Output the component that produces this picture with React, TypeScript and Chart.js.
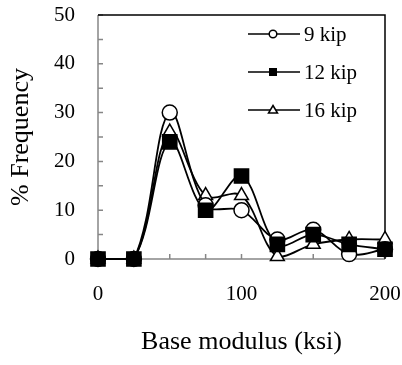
import React, { useEffect, useRef } from "react";
import { Chart, registerables } from "chart.js";

Chart.register(...registerables);

const modulus = [0, 25, 50, 75, 100, 125, 150, 175, 200];
const kip9 = [0, 0, 30, 11, 10, 4, 6, 1, 2];
const kip12 = [0, 0, 24, 10, 17, 3, 5, 3, 2];
const kip16 = [0, 0, 26, 13, 13, 0.5, 3, 4, 4];
const seriesNames = ["9 kip", "12 kip", "16 kip"];
const xTicks = [0, 100, 200];

const FONT = "'Liberation Serif', 'Times New Roman', serif";

const axesPlugin = {
  id: "axesPlugin",
  beforeDatasetsDraw(chart: any) {
    const { ctx, chartArea } = chart;
    const { left, right, top, bottom } = chartArea;
    const xs = chart.scales.x;
    const ys = chart.scales.y;
    ctx.save();
    ctx.lineWidth = 1.5;
    ctx.strokeStyle = "#868686";
    ctx.beginPath();
    ctx.moveTo(left, top);
    ctx.lineTo(left, bottom);
    ctx.lineTo(right, bottom);
    for (let v = 0; v <= 50; v += 5) {
      const y = ys.getPixelForValue(v);
      ctx.moveTo(left, y);
      ctx.lineTo(left + 5, y);
    }
    for (let v = 25; v < 200; v += 25) {
      const x = xs.getPixelForValue(v);
      ctx.moveTo(x, bottom);
      ctx.lineTo(x, bottom - 5);
    }
    ctx.stroke();
    ctx.strokeStyle = "#000";
    ctx.beginPath();
    ctx.moveTo(left, top);
    ctx.lineTo(right, top);
    ctx.lineTo(right, bottom);
    ctx.stroke();
    ctx.restore();
  },
  afterDraw(chart: any) {
    const { ctx } = chart;
    const rows = [34, 72, 110];
    const styles = ["circle", "rect", "triangle"];
    ctx.save();
    rows.forEach((y, i) => {
      ctx.strokeStyle = "#000";
      ctx.lineWidth = 1.5;
      ctx.beginPath();
      ctx.moveTo(248, y);
      ctx.lineTo(300, y);
      ctx.stroke();
      const cx = 273;
      ctx.beginPath();
      if (styles[i] === "circle") {
        ctx.arc(cx, y, 3.8, 0, Math.PI * 2);
        ctx.fillStyle = "#fff";
        ctx.fill();
        ctx.stroke();
      } else if (styles[i] === "rect") {
        ctx.fillStyle = "#000";
        ctx.fillRect(cx - 4, y - 4, 8, 8);
      } else {
        ctx.moveTo(cx, y - 4.5);
        ctx.lineTo(cx + 4.5, y + 3);
        ctx.lineTo(cx - 4.5, y + 3);
        ctx.closePath();
        ctx.fillStyle = "#fff";
        ctx.fill();
        ctx.stroke();
      }
      ctx.fillStyle = "#000";
      ctx.font = `21px ${FONT}`;
      ctx.textBaseline = "middle";
      ctx.textAlign = "left";
      ctx.fillText(seriesNames[i], 304, y + 1);
    });
    ctx.restore();
  },
};

export default function App() {
  const ref = useRef<HTMLCanvasElement>(null);
  useEffect(() => {
    if (!ref.current) return;
    const mk = (label: string, data: number[], style: string, radius: number, fill: string, order: number) => ({
      label,
      data: modulus.map((x, i) => ({ x, y: data[i] })),
      borderColor: "#000",
      borderWidth: 1.8,
      tension: 0.35,
      pointStyle: style,
      pointRadius: radius,
      pointBackgroundColor: fill,
      pointBorderColor: "#000",
      pointBorderWidth: 1.5,
      clip: false,
      order,
    });
    const chart = new Chart(ref.current, {
      type: "line",
      data: {
        datasets: [
          mk(seriesNames[0], kip9, "circle", 7.5, "#fff", 1),
          mk(seriesNames[1], kip12, "rect", 10, "#000", 0),
          mk(seriesNames[2], kip16, "triangle", 8, "#fff", 2),
        ] as any,
      },
      options: {
        animation: false,
        responsive: false,
        devicePixelRatio: 1,
        layout: { padding: { top: 15, right: 17, left: 0, bottom: 0 } },
        plugins: { legend: { display: false }, tooltip: { enabled: false } },
        scales: {
          x: {
            type: "linear",
            min: 0,
            max: 200,
            afterBuildTicks: (s: any) => {
              s.ticks = xTicks.map((v) => ({ value: v }));
            },
            afterFit: (s: any) => {
              s.height = 106;
              s.paddingLeft = 0;
              s.paddingRight = 0;
            },
            grid: { display: false, drawTicks: false },
            border: { display: false },
            ticks: {
              color: "#000",
              font: { family: FONT, size: 21 },
              padding: 23,
              maxRotation: 0,
            },
            title: {
              display: true,
              text: "Base modulus (ksi)",
              color: "#000",
              font: { family: FONT, size: 26 },
              padding: { top: 0, bottom: 7 },
            },
          },
          y: {
            min: 0,
            max: 50,
            afterFit: (s: any) => {
              s.width = 98;
              s.paddingTop = 0;
              s.paddingBottom = 0;
            },
            grid: { display: false, drawTicks: false },
            border: { display: false },
            ticks: {
              stepSize: 10,
              color: "#000",
              font: { family: FONT, size: 21 },
              padding: 23,
            },
            title: {
              display: true,
              text: "% Frequency",
              color: "#000",
              font: { family: FONT, size: 26 },
              padding: { top: 6, bottom: 0 },
            },
          },
        },
      } as any,
      plugins: [axesPlugin],
    });
    return () => chart.destroy();
  }, []);
  return (
    <div style={{ position: "absolute", left: 0, top: 0, width: 402, height: 365, background: "#fff" }}>
      <canvas ref={ref} width={402} height={365} />
    </div>
  );
}
